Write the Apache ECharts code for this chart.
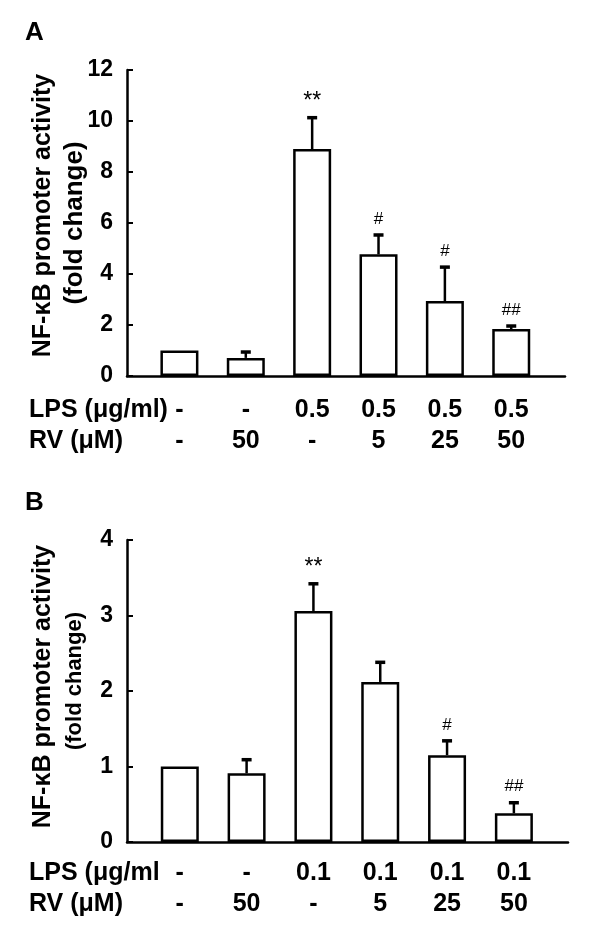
<!DOCTYPE html>
<html>
<head>
<meta charset="utf-8">
<script src="https://cdn.jsdelivr.net/npm/echarts@6/dist/echarts.min.js"></script>
<style>
  html, body { margin: 0; padding: 0; background: #fff; }
  #chart { width: 600px; height: 948px; }
</style>
</head>
<body>
<div id="chart"></div>
<script>
// ---- data ----
const groupIndex = [0, 1, 2, 3, 4, 5];
const lpsA = ['-', '-', '0.5', '0.5', '0.5', '0.5'];
const rvA  = ['-', '50', '-', '5', '25', '50'];
const meanA = [1.0, 0.71, 8.9, 4.77, 2.94, 1.84];
const errA  = [0, 0.23, 1.23, 0.76, 1.33, 0.12];
const sigA  = ['', '', '**', '#', '#', '##'];

const lpsB = ['-', '-', '0.1', '0.1', '0.1', '0.1'];
const rvB  = ['-', '50', '-', '5', '25', '50'];
const meanB = [1.0, 0.91, 3.06, 2.12, 1.15, 0.38];
const errB  = [0, 0.18, 0.36, 0.26, 0.19, 0.14];
const sigB  = ['', '', '**', '', '#', '##'];

const yTicksA = { min: 0, max: 12, interval: 2 };
const yTicksB = { min: 0, max: 4, interval: 1 };
const rowLabelsA = ['LPS (μg/ml)', 'RV (μM)'];
const rowLabelsB = ['LPS (μg/ml', 'RV (μM)'];
const yTitle1 = 'NF-κB promoter activity';
const yTitle2 = '(fold change)';

// ---- chart ----
const FONT = '"Liberation Sans", Arial, Helvetica, sans-serif';
const chart = echarts.init(document.getElementById('chart'), null, { renderer: 'canvas' });

function xAxisFor(gi, lps, rv, margin) {
  return {
    type: 'value', gridIndex: gi, min: -0.79, max: 5.81,
    axisLine: { show: true, onZero: false, lineStyle: { color: '#000', width: 2.5 } },
    axisTick: { show: false },
    splitLine: { show: false },
    axisLabel: {
      show: true,
      customValues: groupIndex,
      formatter: v => lps[Math.round(v)] + '\n' + rv[Math.round(v)],
      color: '#000', fontFamily: FONT, fontWeight: 'bold', fontSize: 25,
      lineHeight: 31, margin: margin
    }
  };
}
function yAxisFor(gi, t, size2, pad1, pad2, gap) {
  return {
    type: 'value', gridIndex: gi, min: t.min, max: t.max, interval: t.interval,
    axisLine: { show: true, onZero: false, lineStyle: { color: '#000', width: 2.5 } },
    axisTick: { show: true, inside: true, length: 6, lineStyle: { color: '#000', width: 2 } },
    splitLine: { show: false },
    axisLabel: { color: '#000', fontFamily: FONT, fontWeight: 'bold', fontSize: 23, margin: 14 },
    name: '{a|' + yTitle1 + '}\n{b|' + yTitle2 + '}',
    nameLocation: 'middle', nameRotate: 90, nameGap: gap, nameMoveOverlap: false,
    nameTextStyle: {
      color: '#000', fontFamily: FONT, fontWeight: 'bold',
      rich: {
        a: { fontSize: 25, fontWeight: 'bold', fontFamily: FONT, color: '#000', lineHeight: 31, padding: pad1 },
        b: { fontSize: size2, fontWeight: 'bold', fontFamily: FONT, color: '#000', lineHeight: 31, padding: pad2 }
      }
    }
  };
}
function barSeries(gi, mean) {
  return {
    type: 'bar', xAxisIndex: gi, yAxisIndex: gi, barWidth: 38,
    data: mean.map((v, i) => [groupIndex[i], v]),
    itemStyle: { color: '#fff', borderColor: '#000', borderWidth: 2.5 },
    silent: true, z: 2
  };
}
function errSeries(gi, mean, err, sig) {
  return {
    type: 'custom', xAxisIndex: gi, yAxisIndex: gi, z: 3, silent: true,
    data: mean.map((v, i) => [groupIndex[i], v, err[i], i]),
    renderItem: function (params, api) {
      const x = api.value(0), v = api.value(1), e = api.value(2), idx = api.value(3);
      const p0 = api.coord([x, v]);
      const p1 = api.coord([x, v + e]);
      const children = [];
      if (e > 0) {
        children.push({ type: 'line', shape: { x1: p0[0], y1: p0[1], x2: p1[0], y2: p1[1] },
          style: { stroke: '#000', lineWidth: 2.5 } });
        children.push({ type: 'line', shape: { x1: p1[0] - 5, y1: p1[1], x2: p1[0] + 5, y2: p1[1] },
          style: { stroke: '#000', lineWidth: 3.5 } });
      }
      const s = sig[idx];
      if (s) {
        children.push({ type: 'text', x: p1[0], y: p1[1] - 16,
          style: { text: s, fill: '#000', fontFamily: FONT,
                   fontSize: s.indexOf('*') >= 0 ? 23 : 17,
                   align: 'center', verticalAlign: 'middle' } });
      }
      return { type: 'group', children: children };
    }
  };
}

const option = {
  animation: false,
  backgroundColor: '#fff',
  grid: [
    { left: 127, top: 70, width: 438, height: 306 },
    { left: 127, top: 540, width: 441, height: 302 }
  ],
  xAxis: [ xAxisFor(0, lpsA, rvA, 19), xAxisFor(1, lpsB, rvB, 16) ],
  yAxis: [ yAxisFor(0, yTicksA, 26, [0, 0, 0, 15], [0, 0, 0, 0], 37),
           yAxisFor(1, yTicksB, 22, [0, 0, 0, 9], [0, 0, 0, 20], 37) ],
  series: [
    barSeries(0, meanA), errSeries(0, meanA, errA, sigA),
    barSeries(1, meanB), errSeries(1, meanB, errB, sigB)
  ],
  graphic: [
    { type: 'text', left: 25, top: 20, style: { text: 'A', fontFamily: FONT, fontWeight: 'bold', fontSize: 26, fill: '#000' } },
    { type: 'text', left: 25, top: 490, style: { text: 'B', fontFamily: FONT, fontWeight: 'bold', fontSize: 26, fill: '#000' } },
    { type: 'text', x: 29, y: 410, style: { text: rowLabelsA[0], fontFamily: FONT, fontWeight: 'bold', fontSize: 25, fill: '#000', verticalAlign: 'middle' } },
    { type: 'text', x: 29, y: 441, style: { text: rowLabelsA[1], fontFamily: FONT, fontWeight: 'bold', fontSize: 25, fill: '#000', verticalAlign: 'middle' } },
    { type: 'text', x: 29, y: 873, style: { text: rowLabelsB[0], fontFamily: FONT, fontWeight: 'bold', fontSize: 25, fill: '#000', verticalAlign: 'middle' } },
    { type: 'text', x: 29, y: 904, style: { text: rowLabelsB[1], fontFamily: FONT, fontWeight: 'bold', fontSize: 25, fill: '#000', verticalAlign: 'middle' } }
  ]
};
chart.setOption(option);
</script>
</body>
</html>
